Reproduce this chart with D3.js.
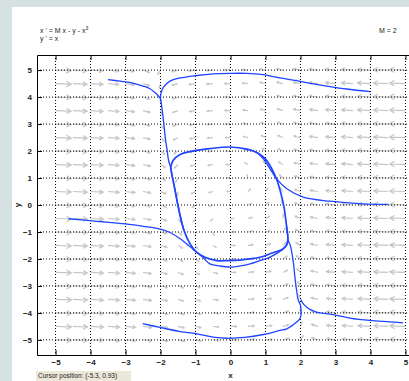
<!DOCTYPE html>
<html>
<head>
<meta charset="utf-8">
<script src="https://cdn.jsdelivr.net/npm/d3@7"></script>
<style>
  html, body { margin: 0; padding: 0; background: #d6e1e2; overflow: hidden; }
  text { font-family: "Liberation Sans", Arial, sans-serif; }
</style>
</head>
<body>
<div id="chart"></div>
<script>
// system shown in the title: x' = M x - y - x^3, y' = x
const M = 2
const xTicks = [-5, -4, -3, -2, -1, 0, 1, 2, 3, 4, 5]
const yTicks = [-5, -4, -3, -2, -1, 0, 1, 2, 3, 4, 5]
const fieldXs = d3.range(-5, 5.01, 0.5)
const fieldYs = d3.range(-5, 5.01, 0.5)

// trajectories, [x, y]
const trajTopLeft = [[-3.50, 4.65], [-3.16, 4.59], [-2.79, 4.52], [-2.50, 4.41], [-2.30, 4.31], [-2.16, 4.17], [-2.06, 4.04], [-2.00, 3.93],
  [-1.97, 3.69], [-1.94, 3.39], [-1.90, 2.94], [-1.86, 2.46], [-1.81, 2.02], [-1.77, 1.65], [-1.71, 1.39], [-1.67, 1.09], [-1.61, 0.72], [-1.53, 0.17], [-1.44, -0.39], [-1.33, -0.94]]
const trajTopRight = [[3.99, 4.20], [3.32, 4.30], [2.84, 4.39], [2.37, 4.49], [1.89, 4.61], [1.41, 4.71], [0.94, 4.83], [0.46, 4.88], [-0.01, 4.88],
  [-0.49, 4.86], [-0.97, 4.80], [-1.44, 4.71], [-1.73, 4.59], [-1.92, 4.36], [-1.99, 4.12], [-2.00, 3.93]]
const limitCycle = [[-1.71, 1.39], [-1.64, 1.65], [-1.44, 1.87], [-1.16, 1.98], [-0.59, 2.09], [-0.01, 2.15], [0.47, 2.07], [0.76, 1.94], [0.99, 1.72],
  [1.16, 1.39], [1.33, 0.91], [1.44, 0.43], [1.53, -0.09], [1.60, -0.76], [1.64, -1.24], [1.61, -1.46], [1.50, -1.63], [1.19, -1.78], [0.93, -1.91],
  [0.56, -2.00], [0.27, -2.04], [-0.07, -2.06], [-0.39, -2.06], [-0.73, -1.94], [-0.96, -1.76], [-1.16, -1.43], [-1.33, -0.94], [-1.44, -0.39],
  [-1.53, 0.17], [-1.61, 0.72], [-1.67, 1.09], [-1.71, 1.39]]
const trajLeft = [[-4.63, -0.51], [-3.87, -0.60], [-3.01, -0.70], [-2.44, -0.80], [-2.01, -0.89], [-1.73, -1.02], [-1.44, -1.25], [-1.16, -1.54],
  [-0.97, -1.75], [-0.79, -1.94], [-0.59, -2.18], [-0.30, -2.26], [-0.01, -2.30], [0.27, -2.26], [0.56, -2.18], [0.84, -2.06], [1.13, -1.93],
  [1.41, -1.72], [1.56, -1.56], [1.64, -1.38], [1.64, -1.24], [1.60, -0.76]]
const trajRight = [[4.51, 0.02], [3.79, 0.04], [2.84, 0.14], [2.08, 0.29], [1.61, 0.60], [1.32, 0.97], [1.13, 1.34], [0.94, 1.71], [0.76, 1.94], [0.47, 2.07]]
const trajBottomLeft = [[-2.51, -4.40], [-2.01, -4.54], [-1.44, -4.69], [-0.99, -4.77], [-0.44, -4.91], [-0.10, -4.94], [0.41, -4.91], [0.94, -4.80],
  [1.41, -4.65], [1.61, -4.59], [1.89, -4.34], [1.99, -4.20], [2.00, -3.72], [1.94, -3.54], [1.89, -3.17], [1.84, -2.67], [1.79, -2.06],
  [1.70, -1.46], [1.64, -1.31]]
const trajBottomRight = [[4.93, -4.37], [4.56, -4.33], [3.99, -4.28], [3.41, -4.19], [3.03, -4.09], [2.70, -4.02], [2.46, -3.97], [2.27, -3.87],
  [2.18, -3.79], [2.07, -3.65], [2.01, -3.50]]
const trajectories = [trajTopLeft, trajTopRight, trajLeft, trajRight, trajBottomLeft, trajBottomRight]

const width = 409, height = 381
const plot = {left: 37, top: 55, right: 424, bottom: 355}

const svg = d3.select("#chart").append("svg")
  .attr("width", width)
  .attr("height", height)

// window backdrop
svg.append("rect").attr("width", width).attr("height", height).attr("fill", "#d6e1e2")
svg.append("rect").attr("x", 12).attr("y", 7).attr("width", width).attr("height", height).attr("fill", "#ffffff")

const x = d3.scaleLinear().domain([-5.53, 5.53]).range([plot.left, plot.right])
const y = d3.scaleLinear().domain([-5.56, 5.56]).range([plot.bottom, plot.top])

svg.append("clipPath").attr("id", "clip")
  .append("rect")
  .attr("x", plot.left).attr("y", plot.top)
  .attr("width", plot.right - plot.left).attr("height", plot.bottom - plot.top)

const g = svg.append("g").attr("clip-path", "url(#clip)")

// direction field (grey arrows, tail at grid point)
let field = []
fieldXs.forEach(fx => fieldYs.forEach(fy => {
  let vx = M * fx - fy - fx * fx * fx
  let vy = fx
  let px = vx * (x(1) - x(0)), py = vy * (y(1) - y(0))
  field.push({fx, fy, px, py, m: Math.hypot(vx, vy)})
}))
const mMax = d3.max(field, d => d.m)

const arrowPath = d => {
  let L = 16 * Math.pow(d.m / mMax, 0.3)
  let a = Math.atan2(d.py, d.px)
  let x0 = x(d.fx), y0 = y(d.fy)
  let x1 = x0 + L * Math.cos(a), y1 = y0 + L * Math.sin(a)
  let h = L * 0.35, s = 0.5
  let p = d3.path()
  p.moveTo(x0, y0); p.lineTo(x1, y1)
  p.moveTo(x1 - h * Math.cos(a - s), y1 - h * Math.sin(a - s))
  p.lineTo(x1, y1)
  p.lineTo(x1 - h * Math.cos(a + s), y1 - h * Math.sin(a + s))
  return p.toString()
}

g.append("g").selectAll("path")
  .data(field)
  .enter()
  .append("path")
  .attr("d", arrowPath)
  .attr("fill", "none")
  .attr("stroke", "#c6c6c6")
  .attr("stroke-width", 1.2)

// dotted grid
g.append("g").selectAll("line")
  .data(xTicks)
  .enter()
  .append("line")
  .attr("x1", d => x(d)).attr("x2", d => x(d))
  .attr("y1", plot.top).attr("y2", plot.bottom)
  .attr("stroke", "#000").attr("stroke-width", 1)
  .attr("stroke-dasharray", "1,2")
g.append("g").selectAll("line")
  .data(yTicks)
  .enter()
  .append("line")
  .attr("y1", d => y(d)).attr("y2", d => y(d))
  .attr("x1", plot.left).attr("x2", plot.right)
  .attr("stroke", "#000").attr("stroke-width", 1)
  .attr("stroke-dasharray", "1,2")

// solutions
const line = d3.line().x(d => x(d[0])).y(d => y(d[1])).curve(d3.curveCatmullRom.alpha(0.5))
g.append("g").selectAll("path")
  .data(trajectories)
  .enter()
  .append("path")
  .attr("d", line)
  .attr("fill", "none")
  .attr("stroke", "#1f45ff")
  .attr("stroke-width", 1.3)
g.append("path")
  .datum(limitCycle)
  .attr("d", line)
  .attr("fill", "none")
  .attr("stroke", "#1f45ff")
  .attr("stroke-width", 1.7)

// axes
const xAxisB = d3.axisBottom(x).tickValues(xTicks).tickSizeInner(-5).tickSizeOuter(0).tickPadding(4).tickFormat(d3.format("d"))
const xAxisT = d3.axisTop(x).tickValues(xTicks).tickSizeInner(-5).tickSizeOuter(0).tickFormat("")
const yAxisL = d3.axisLeft(y).tickValues(yTicks).tickSizeInner(-5).tickSizeOuter(0).tickPadding(5).tickFormat(d3.format("d"))

const styleAxis = sel => {
  sel.select(".domain").attr("stroke", "#000")
  sel.selectAll(".tick line").attr("stroke", "#000")
  sel.selectAll(".tick text").attr("font-size", 8).attr("font-weight", "bold").attr("fill", "#222")
    .attr("font-family", "'Liberation Sans', Arial, sans-serif")
}
svg.append("g").attr("transform", "translate(0," + plot.bottom + ")").call(xAxisB).call(styleAxis)
svg.append("g").attr("transform", "translate(0," + plot.top + ")").call(xAxisT).call(styleAxis)
svg.append("g").attr("transform", "translate(" + plot.left + ",0)").call(yAxisL).call(styleAxis)

svg.append("text").attr("x", x(0)).attr("y", 378).attr("text-anchor", "middle")
  .attr("font-size", 8).attr("font-weight", "bold").attr("fill", "#222").text("x")
svg.append("text").attr("transform", "translate(20," + y(0) + ") rotate(-90)").attr("text-anchor", "middle")
  .attr("font-size", 8).attr("font-weight", "bold").attr("fill", "#222").text("y")

// equation labels
const eq = svg.append("text").attr("x", 40).attr("y", 32.5).attr("font-size", 7).attr("fill", "#222")
eq.append("tspan").text("x ' = M x - y - x")
eq.append("tspan").attr("dy", -2.5).attr("font-size", 5).text("3")
svg.append("text").attr("x", 40).attr("y", 41).attr("font-size", 7).attr("fill", "#222").text("y ' = x")
svg.append("text").attr("x", 379).attr("y", 32.5).attr("font-size", 7).attr("fill", "#222").text("M = 2")

// status box
svg.append("rect").attr("x", 36).attr("y", 371).attr("width", 95).attr("height", 10).attr("fill", "#ebe8da")
svg.append("text").attr("x", 38).attr("y", 378).attr("font-size", 6.5).attr("fill", "#222")
  .text("Cursor position:  (-5.3, 0.93)")
</script>
</body>
</html>
